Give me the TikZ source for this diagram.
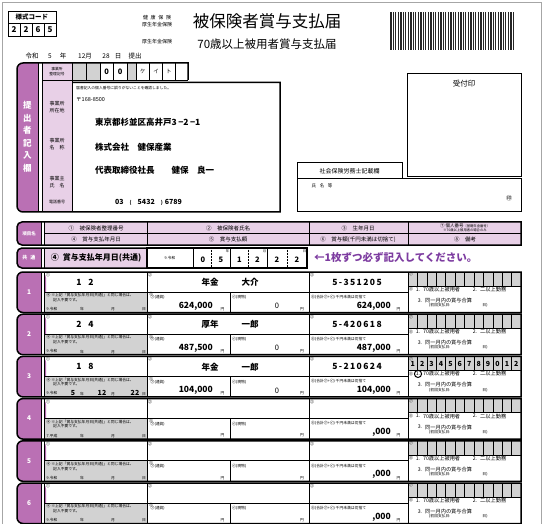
\documentclass[tikz,border=0pt]{standalone}
\usepackage{fontspec}
\setmainfont{Noto Sans CJK JP}
\definecolor{tabpurple}{RGB}{186,112,180}
\definecolor{palepurple}{RGB}{232,208,231}
\definecolor{cellgray}{RGB}{210,210,210}
\definecolor{notepurple}{RGB}{125,60,160}
\newcommand\fsz[1]{\fontsize{#1}{#1}\selectfont}

\begin{document}
\begin{tikzpicture}[x=1pt,y=-1pt,
  pale/.style={fill=palepurple},
  grayfill/.style={fill=cellgray},
  boxline/.style={line width=1.5pt},
  thinline/.style={line width=0.5pt},
  midline/.style={line width=0.8pt},
  mini/.style={inner sep=0pt,font=\fsz{3.8}},
  lbl/.style={inner sep=0pt,font=\fsz{5.5}},
  val/.style={inner sep=0pt,font=\fsz{8.5}\bfseries},
  tabtext/.style={inner sep=0pt,text=white,font=\fsz{5.5}\bfseries}]
\useasboundingbox (0,0) rectangle (544,524);
% page frame
\draw[gray!70,line width=0.8pt] (2,524) -- (2,2) -- (541,2) -- (541,524);

% form code
\draw[midline] (8,11) rectangle (56,36) (8,23.5) -- (56,23.5);
\node[inner sep=0pt,font=\fsz{6.5}\bfseries] (code) at (32,17.25) {様式コード};
\foreach \d [count=\c] in {2,2,6,5} {
  \node[inner sep=0pt,font=\fsz{8}\bfseries] (code\c) at (2+12*\c,29.75) {\d};
}
\foreach \c in {1,2,3} \draw[thinline] (8+12*\c,23.5) -- (8+12*\c,36);

% titles
\node[inner sep=0pt,font=\fsz{5}] (kenpo) at (157,18) {\makebox[28pt][s]{健\hfil 康\hfil 保\hfil 険}};
\node[inner sep=0pt,font=\fsz{5}] (kosei) at (157,25) {厚生年金保険};
\node[inner sep=0pt,font=\fsz{5}] (kosei2) at (157,42) {厚生年金保険};
\node[inner sep=0pt,font=\fsz{16.5}] (title) at (267,21) {被保険者賞与支払届};
\node[inner sep=0pt,font=\fsz{11.5}] (subtitle) at (267,44) {70歳以上被用者賞与支払届};

% barcode
\foreach \k in {0,...,49} {
  \pgfmathsetmacro\bw{0.6+0.45*mod(\k*7+3,4)}
  \fill[black!85] (390+2.5*\k,12) rectangle ++(\bw,38);
}

% date of submission
\foreach \tx/\t [count=\c] in {32/令和,50/5,63/年,85/12月,106/28,118/日,135/提出}
  \node[inner sep=0pt,font=\fsz{6.5}] (sub\c) at (\tx,56) {\t};

% submitter block
\fill[tabpurple, rounded corners=6] (17,63) rectangle (46,212);
\fill[white] (38,63) rectangle (42,212);
\fill[pale] (42,63) rectangle (72,212);
\fill[grayfill] (72,63) rectangle (100,80) (127,63) rectangle (136,80);
\draw[line width=1pt] (38,63) -- (38,212);
\draw[midline] (42,63) -- (42,212) (72,63) -- (72,212);
\draw[midline] (42,80) -- (188,80);
\foreach \cx in {86,100,113.5,127,136,149.5,162.5,175}
  \draw[thinline] (\cx,63) -- (\cx,80);
\draw[boxline] (188,80) -- (188,63) [rounded corners=6]-- (17,63) -- (17,212) [sharp corners]-- (280,212) -- (280,82.5) -- (72,82.5);
\node[tabtext,font=\fontsize{8.5}{12.5}\selectfont\bfseries,align=center] (teishutsu) at (27.5,137) {提\\出\\者\\記\\入\\欄};
\node[inner sep=0pt,font=\fontsize{3.8}{4.6}\selectfont,align=center] (seiri) at (57,71.5) {事業所\\整理記号};
\node[lbl,font=\fontsize{5}{7}\selectfont,align=left] (shozai) at (57,107) {事業所\\所在地};
\node[lbl,font=\fontsize{5}{7}\selectfont,align=left] (meisho) at (57,144) {事業所\\名\hspace{1em}称};
\node[lbl,font=\fontsize{5}{7}\selectfont,align=left] (jigyonushi) at (57,182) {事業主\\氏\hspace{1em}名};
\node[inner sep=0pt,font=\fsz{4}] (denwa) at (57,202) {電話番号};
\foreach \cx/\t [count=\c] in {106.75/0,120.25/0}
  \node[inner sep=0pt,font=\fsz{7.5}\bfseries] (zero\c) at (\cx,71.5) {\t};
\foreach \cx/\t [count=\c] in {142.75/ケ,156/イ,168.75/ト}
  \node[inner sep=0pt,font=\fsz{5.5}] (kana\c) at (\cx,71.5) {\t};
\node[mini,anchor=west] (kakunin) at (76,88) {届書記入の個人番号に誤りがないことを確認しました。};
\node[lbl,anchor=west] (zip) at (76,100) {〒168-8500};
\node[inner sep=0pt,anchor=west,font=\fsz{8.5}\bfseries] (addr) at (95,122) {東京都杉並区高井戸3\,−2\,−1};
\node[inner sep=0pt,anchor=west,font=\fsz{8.5}\bfseries] (corp) at (95,147) {株式会社　健保産業};
\node[inner sep=0pt,anchor=west,font=\fsz{8.5}\bfseries] (owner) at (95,170) {代表取締役社長　　健保　良一};
\node[inner sep=0pt,anchor=west,font=\fsz{7}\bfseries] (tel) at (115,202) {03\hspace{6pt}{\fsz{5}(}\hspace{6pt}5432\hspace{6pt}{\fsz{5})}\hspace{2pt}6789};

% stamp boxes
\draw[line width=1pt] (407,74) rectangle (521,177);
\node[inner sep=0pt,font=\fsz{7.5}] (uketsuke) at (464,84) {受付印};
\draw[line width=1pt] (297,163) rectangle (402,179);
\node[inner sep=0pt,font=\fsz{6}] (sharoshi) at (349.5,171) {社会保険労務士記載欄};
\draw[line width=1pt] (297,179) rectangle (521,212);
\node[inner sep=0pt,font=\fsz{4.5}] (shimei) at (322,186) {氏\hspace{0.8em}名\hspace{0.8em}等};
\node[inner sep=0pt,font=\fsz{6}] (in) at (509,198) {㊞};

% item header
\fill[tabpurple, rounded corners=5] (17,222) rectangle (46,245);
\fill[white] (41.5,222) rectangle (44.5,245);
\fill[pale] (44.5,222) rectangle (521,245);
\draw[thinline] (44.5,233.5) -- (521,233.5);
\draw[midline] (147,222) -- (147,245) (309,222) -- (309,245) (408,222) -- (408,245);
\draw[line width=1pt] (41.5,222) -- (41.5,245);
\draw[midline] (44.5,222) -- (44.5,245);
\draw[boxline] (46,222) [rounded corners=5]-- (17,222) -- (17,245) [sharp corners]-- (521,245) -- (521,222) -- cycle;
\node[tabtext,font=\fsz{4.5}\bfseries] (komoku) at (29,233.5) {項目名};
\node[lbl] (h1) at (96,228) {①　被保険者整理番号};
\node[lbl] (h2) at (228,228) {②　被保険者氏名};
\node[lbl] (h3) at (358,228) {③　生年月日};
\node[inner sep=0pt,font=\fontsize{4.5}{4.2}\selectfont,align=center] (h7) at (465,228) {⑦ 個人番号{\fsz{3.3}〔基礎年金番号〕}\\{\fsz{3.3}※70歳以上被用者の場合のみ}};
\node[lbl] (h4) at (96,239.5) {④　賞与支払年月日};
\node[lbl] (h5) at (228,239.5) {⑤　賞与支払額};
\node[lbl] (h6) at (358,239.5) {⑥　賞与額(千円未満は切捨て)};
\node[lbl] (h8) at (465,239.5) {⑧　備考};

% common payment date
\fill[tabpurple, rounded corners=5] (17,248) rectangle (46,268);
\fill[white] (41.5,248) rectangle (44.5,268);
\fill[pale] (44.5,248) rectangle (147,268);
\draw[line width=1pt] (41.5,248) -- (41.5,268);
\draw[midline] (44.5,248) -- (44.5,268);
\draw[boxline] (147,248) [rounded corners=5]-- (17,248) -- (17,268) [sharp corners]-- (147,268) -- cycle;
\draw[boxline] (147,248) rectangle (307,268);
\draw[thinline] (193,248) -- (193,268) (230,248) -- (230,268) (267,248) -- (267,268);
\draw[thinline,densely dotted] (211.5,248) -- (211.5,268) (248.5,248) -- (248.5,268) (287,248) -- (287,268);
\node[tabtext,font=\fsz{5}\bfseries] (kyotsu) at (29,258) {共\hspace{0.6em}通};
\node[inner sep=0pt,font=\fsz{8}\bfseries] (kyotsulbl) at (96,258) {④\hspace{0.5em}賞与支払年月日(共通)};
\node[mini] (era0) at (170,258) {9.令和};
\foreach \cx/\t [count=\c] in {203/0,221/5,239.5/1,257.5/2,277/2,297/2}
  \node[inner sep=0pt,font=\fsz{7.5}\bfseries] (d\c) at (\cx,260) {\t};
\foreach \cx/\t [count=\c] in {227.5/年,264.5/月,304.5/日}
  \node[inner sep=0pt,font=\fsz{3.3}] (du\c) at (\cx,251) {\t};
\node[inner sep=0pt,anchor=west,text=notepurple,font=\fsz{10.5}\bfseries] (note) at (314,258) {←1枚ずつ必ず記入してください。};

% insured persons
\foreach \i/\num/\fam/\giv/\amt/\gen/\birth/\tot/\era in {
  1/{1\hspace{7pt}2}/年金/大介/{624,000}/0/{5\,-\,3\,5\,1\,2\,0\,5}/624/9.令和,
  2/{2\hspace{7pt}4}/厚年/一郎/{487,500}/0/{5\,-\,4\,2\,0\,6\,1\,8}/487/9.令和,
  3/{1\hspace{7pt}8}/年金/一郎/{104,000}/0/{5\,-\,2\,1\,0\,6\,2\,4}/104/9.令和,
  4////////7.平成,
  5////////9.令和,
  6////////9.令和} {
  \pgfmathsetmacro\T{272+42.2*(\i-1)}
  \pgfmathsetmacro\B{\T+40.5}
  \pgfmathsetmacro\M{\T+20}
  \fill[tabpurple, rounded corners=6] (17,\T) rectangle (46,\B);
  \fill[white] (41.5,\T) rectangle (44.5,\B);
  \fill[grayfill] (44.5,\M) rectangle (147,\B);
  \fill[grayfill] (408,\T) rectangle (521,\T+14);
  \draw[midline] (44.5,\M) -- (408,\M);
  \draw[midline] (147,\T) -- (147,\B) (309,\T) -- (309,\B) (408,\T) -- (408,\B);
  \draw[thinline] (230,\M) -- (230,\B) (408,\T+14) -- (521,\T+14);
  \foreach \k in {1,...,11}
    \draw[thinline] (408+9.42*\k,\T) -- (408+9.42*\k,\T+14);
  \draw[midline] (445.7,\T) -- (445.7,\T+14) (483.4,\T) -- (483.4,\T+14);
  \draw[line width=1pt] (41.5,\T) -- (41.5,\B);
  \draw[midline] (44.5,\T) -- (44.5,\B);
  \draw[boxline] (46,\T) [rounded corners=6]-- (17,\T) -- (17,\B) [sharp corners]-- (521,\B) -- (521,\T) -- cycle;
  \node[tabtext,font=\fsz{6.5}\bfseries] (row\i) at (29,\T+20) {\i};
  % labels
  \node[mini] (c1-\i) at (48,\T+3) {①};
  \node[mini] (c2-\i) at (150,\T+3) {②};
  \node[mini] (c3-\i) at (312,\T+3) {③};
  \node[mini] (c7-\i) at (411,\T+2.5) {⑦};
  \node[mini,anchor=west] (c4-\i) at (46.5,\T+23.5) {④ ※上記「賞与支払年月日(共通)」と同じ場合は、};
  \node[mini,anchor=west] (c4b-\i) at (53,\T+28) {記入不要です。};
  \node[mini,anchor=west] (era\i) at (46.5,\T+37) {\era};
  \node[mini] (y\i) at (82,\T+37.5) {年};
  \node[mini] (m\i) at (113,\T+37.5) {月};
  \node[mini] (dd\i) at (144,\T+37.5) {日};
  \node[mini,anchor=west] (c5-\i) at (149,\T+22.5) {⑤};
  \node[mini,anchor=west] (cur\i) at (150.5,\T+25.5) {㋐(通貨)};
  \node[mini,anchor=west] (kind\i) at (232,\T+25.5) {㋑(現物)};
  \node[mini] (yen1-\i) at (222.5,\T+37) {円};
  \node[mini] (yen2-\i) at (302,\T+37) {円};
  \node[mini,anchor=west] (c6-\i) at (311,\T+25) {⑥(合計㋐+㋑)\ 千円未満は切捨て};
  \node[mini] (yen3-\i) at (398.5,\T+37) {円};
  \node[mini] (c8-\i) at (411,\T+17.5) {⑧};
  \node[inner sep=0pt,font=\fsz{5.2}] (b1-\i) at (418,\T+17.5) {1.};
  \node[inner sep=0pt,anchor=west,font=\fsz{5.2}] (b70-\i) at (423,\T+17.5) {70歳以上被用者};
  \node[inner sep=0pt,font=\fsz{5.2}] (b2-\i) at (475,\T+17.5) {2.};
  \node[inner sep=0pt,anchor=west,font=\fsz{5.2}] (bni-\i) at (480,\T+17.5) {二以上勤務};
  \node[inner sep=0pt,font=\fsz{5.2}] (b3-\i) at (420,\T+28.5) {3.};
  \node[inner sep=0pt,anchor=west,font=\fsz{5.2}] (bgo-\i) at (425,\T+28.5) {同一月内の賞与合算};
  \node[inner sep=0pt,anchor=west,font=\fsz{3.8}] (bsho-\i) at (429,\T+33.5) {(初回支払日:};
  \node[inner sep=0pt,font=\fsz{3.8}] (bday-\i) at (485,\T+33.5) {日)};
  % values
  \node[val] (num\i) at (85,\T+10.5) {\num};
  \node[val] (fam\i) at (210,\T+10.5) {\fam};
  \node[val] (giv\i) at (250,\T+10.5) {\giv};
  \node[val] (birth\i) at (357,\T+10.5) {\birth};
  \node[val,anchor=east] (amt\i) at (213,\T+34) {\amt};
  \node[inner sep=0pt,font=\fsz{7.5}] (gen\i) at (277,\T+34) {\gen};
  \node[val,anchor=east] (tot\i) at (391,\T+34) {\tot,000};
}

% third person: payment date, personal number, remark
\node[inner sep=0pt,font=\fsz{7}\bfseries] (y3v) at (73,356.4+37) {5};
\node[inner sep=0pt,font=\fsz{7}\bfseries] (m3v) at (102,356.4+37) {12};
\node[inner sep=0pt,font=\fsz{7}\bfseries] (d3v) at (135,356.4+37) {22};
\foreach \d [count=\k] in {1,2,3,4,5,6,7,8,9,0,1,2}
  \node[inner sep=0pt,font=\fsz{7}\bfseries] (pn\k) at (408+9.42*\k-4.71,356.4+7.5) {\d};
\draw[line width=1pt] (b1-3) circle (3.6);
\end{tikzpicture}
\end{document}
